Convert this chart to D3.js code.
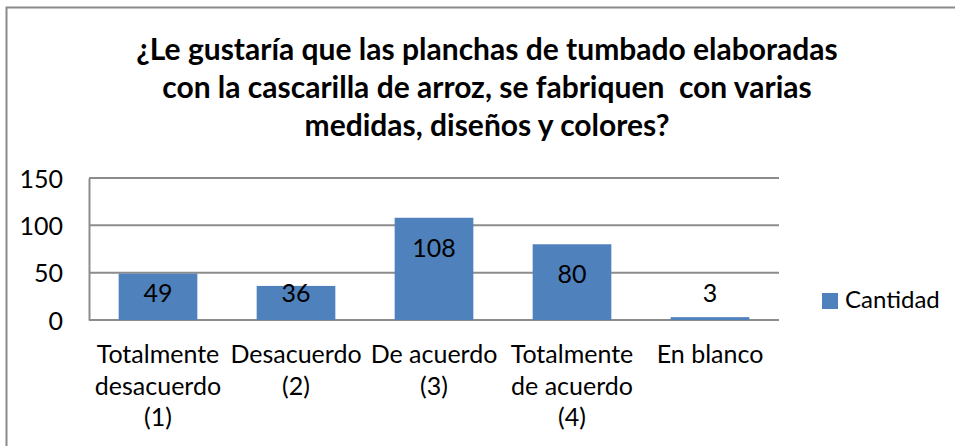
<!DOCTYPE html>
<html lang="es">
<head>
  <meta charset="UTF-8">
  <script src="https://cdn.jsdelivr.net/npm/d3@7"></script>
  <title>Cantidad</title>
  <style>
    body { margin: 0; background: #fff; }
    svg text { font-family: Lato, "Open Sans", sans-serif; fill: #000; white-space: pre; }
  </style>
</head>
<body>
<script>
// datos del grafico
const categorias = [
  ["Totalmente", "desacuerdo", "(1)"],
  ["Desacuerdo", "(2)"],
  ["De acuerdo", "(3)"],
  ["Totalmente", "de acuerdo", "(4)"],
  ["En blanco"]
];
const cantidad = [49, 36, 108, 80, 3];
const ticks = [0, 50, 100, 150];
const titulo = [
  "¿Le gustaría que las planchas de tumbado elaboradas",
  "con la cascarilla de arroz, se fabriquen  con varias",
  "medidas, diseños y colores?"
];
const serie = "Cantidad";

const w = 955, h = 446;
const margin = { top: 178, right: 176, bottom: 126, left: 89 };

const svg = d3.select("body").append("svg")
  .attr("width", w)
  .attr("height", h);

// marco del grafico (solo se ven borde superior e izquierdo)
svg.append("rect")
  .attr("x", 6.5).attr("y", 7.5)
  .attr("width", w + 20).attr("height", h + 20)
  .attr("fill", "#fff")
  .attr("stroke", "#8a8a8a")
  .attr("stroke-width", 2);

// titulo
svg.append("text")
  .attr("text-anchor", "middle")
  .attr("font-weight", "bold")
  .attr("font-size", 30)
  .selectAll("tspan")
  .data(titulo)
  .enter()
  .append("tspan")
  .attr("x", 487)
  .attr("y", (d, i) => 60 + i * 38)
  .text(d => d);

const x = d3.scaleBand()
  .domain(d3.range(categorias.length))
  .range([margin.left, w - margin.right])
  .paddingInner(0.43)
  .paddingOuter(0.215);

const y = d3.scaleLinear()
  .domain([0, 150])
  .range([h - margin.bottom, margin.top]);

// lineas de division
svg.append("g")
  .selectAll("line")
  .data(ticks)
  .enter()
  .append("line")
  .attr("x1", margin.left)
  .attr("x2", w - margin.right)
  .attr("y1", d => y(d))
  .attr("y2", d => y(d))
  .attr("stroke", "#8c8c8c")
  .attr("stroke-width", 2);

// eje y
const yAxis = svg.append("g")
  .attr("transform", "translate(" + margin.left + ",0)")
  .call(d3.axisLeft(y).tickValues(ticks).tickSize(0).tickPadding(26));
yAxis.select(".domain").attr("stroke", "#8c8c8c").attr("stroke-width", 2);
yAxis.selectAll("text").attr("font-size", 25).attr("dy", "0.36em");

// barras
svg.append("g")
  .selectAll("rect")
  .data(cantidad)
  .enter()
  .append("rect")
  .attr("x", (d, i) => x(i))
  .attr("y", d => y(d))
  .attr("width", x.bandwidth())
  .attr("height", d => y(0) - y(d))
  .attr("fill", "#4f81bd");

// etiquetas de datos
svg.append("g")
  .selectAll("text")
  .data(cantidad)
  .enter()
  .append("text")
  .attr("text-anchor", "middle")
  .attr("font-size", 25)
  .attr("x", (d, i) => x(i) + x.bandwidth() / 2)
  .attr("y", d => Math.min(y(d) + 39, y(0) - 18))
  .text(d => d);

// etiquetas de categoria
const xAxis = svg.append("g")
  .attr("transform", "translate(0," + y(0) + ")")
  .call(d3.axisBottom(x).tickSize(0).tickFormat(""));
xAxis.select(".domain").remove();
xAxis.selectAll(".tick text").remove();
xAxis.selectAll(".tick")
  .append("text")
  .attr("text-anchor", "middle")
  .attr("font-size", 25)
  .selectAll("tspan")
  .data(i => categorias[i])
  .enter()
  .append("tspan")
  .attr("x", 0)
  .attr("y", (d, j) => 43 + j * 31.5)
  .text(d => d);

// leyenda
const leyenda = svg.append("g").attr("transform", "translate(822,293)");
leyenda.append("rect")
  .attr("width", 16).attr("height", 16)
  .attr("fill", "#4f81bd");
leyenda.append("text")
  .attr("x", 23).attr("y", 15)
  .attr("font-size", 24)
  .text(serie);
</script>
</body>
</html>
